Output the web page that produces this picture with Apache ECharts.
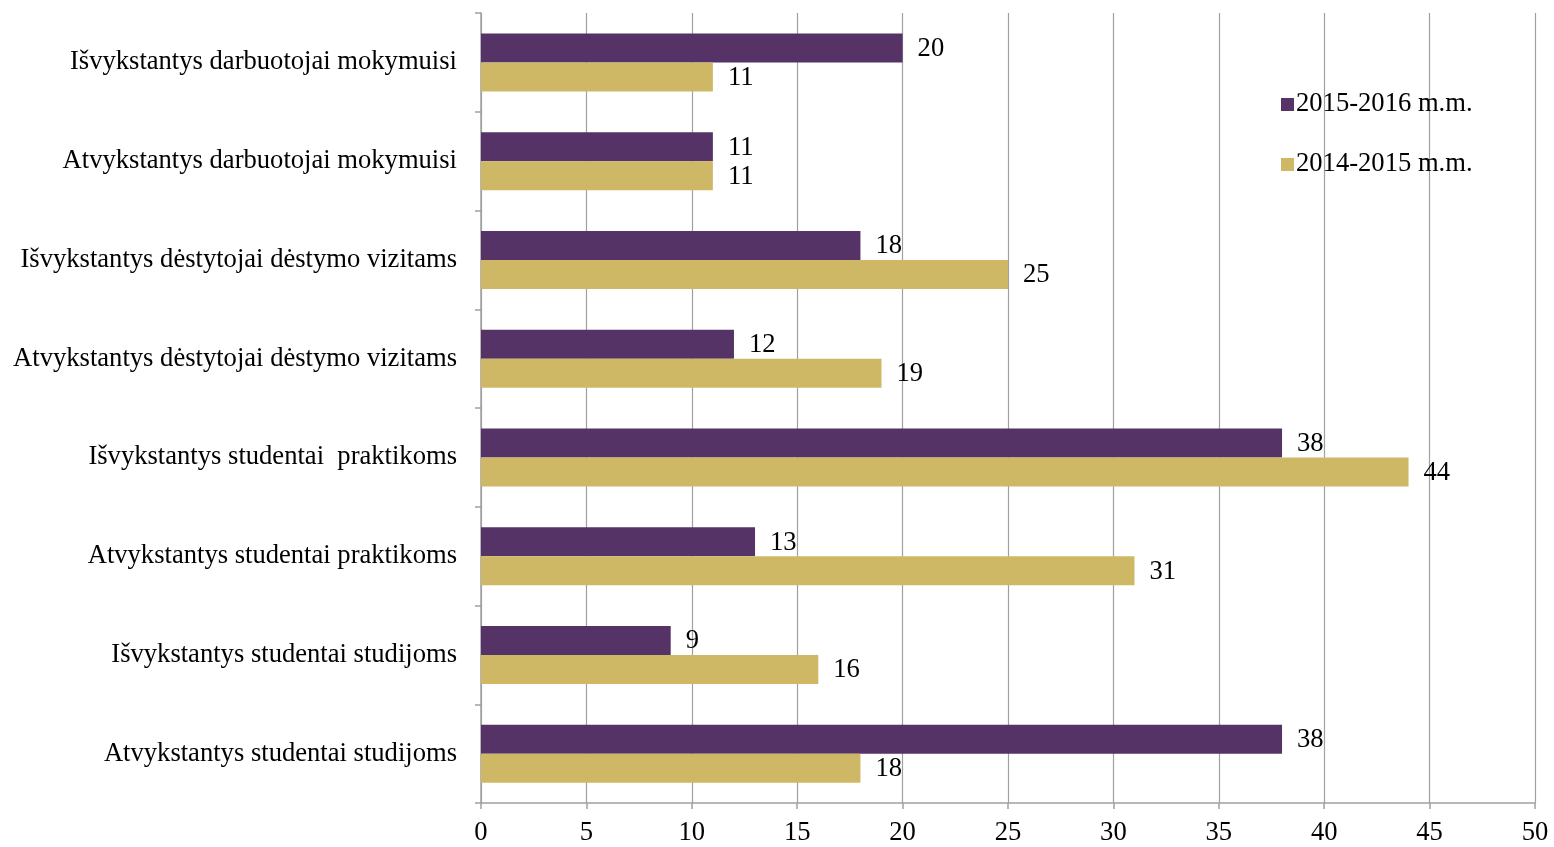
<!DOCTYPE html>
<html>
<head>
<meta charset="utf-8">
<script src="https://cdn.jsdelivr.net/npm/echarts@6/dist/echarts.min.js"></script>
<style>
html,body{margin:0;padding:0;background:#fff;}
#c{width:1554px;height:847px;}
</style>
</head>
<body>
<div id="c"></div>
<script>
const categories = [
  'Atvykstantys studentai studijoms',
  'Išvykstantys studentai studijoms',
  'Atvykstantys studentai praktikoms',
  'Išvykstantys studentai  praktikoms',
  'Atvykstantys dėstytojai dėstymo vizitams',
  'Išvykstantys dėstytojai dėstymo vizitams',
  'Atvykstantys darbuotojai mokymuisi',
  'Išvykstantys darbuotojai mokymuisi'
];
const series2015_2016 = [38, 9, 13, 38, 12, 18, 11, 20];
const series2014_2015 = [18, 16, 31, 44, 19, 25, 11, 11];
const xTicks = {min: 0, max: 50, interval: 5};

const font = 'Liberation Serif';
const fs = 26.6;
const chart = echarts.init(document.getElementById('c'));
chart.setOption({
  animation: false,
  textStyle: {fontFamily: font},
  grid: {left: 481, right: 19, top: 13, bottom: 43, containLabel: false},
  legend: {
    orient: 'vertical',
    left: 1276,
    top: 86,
    itemWidth: 13,
    itemHeight: 13,
    itemGap: 33,
    icon: 'rect',
    data: ['2015-2016 m.m.', '2014-2015 m.m.'],
    textStyle: {fontFamily: font, fontSize: fs, color: '#000', padding: [0,0,0,-3]}
  },
  xAxis: {
    type: 'value',
    min: xTicks.min, max: xTicks.max, interval: xTicks.interval,
    axisLine: {show: true, lineStyle: {color: '#a0a0a0', width: 1.5}},
    axisTick: {show: true, length: 6, lineStyle: {color: '#a0a0a0', width: 1.5}},
    splitLine: {show: true, lineStyle: {color: '#a0a0a0', width: 1.2}},
    axisLabel: {fontFamily: font, fontSize: fs, color: '#000', margin: 17}
  },
  yAxis: {
    type: 'category',
    data: categories,
    axisLine: {show: true, lineStyle: {color: '#a0a0a0', width: 1.5}},
    axisTick: {show: true, length: 6, lineStyle: {color: '#a0a0a0', width: 1.5}},
    axisLabel: {fontFamily: font, fontSize: fs, color: '#000', margin: 24}
  },
  series: [
    {
      name: '2015-2016 m.m.',
      type: 'bar',
      data: series2015_2016,
      barWidth: 29,
      barGap: '0%',
      barCategoryGap: '42%',
      itemStyle: {color: '#553366'},
      label: {show: true, position: 'right', distance: 15, offset: [0, 1], fontFamily: font, fontSize: fs, color: '#000'}
    },
    {
      name: '2014-2015 m.m.',
      type: 'bar',
      data: series2014_2015,
      barWidth: 29,
      barGap: '0%',
      barCategoryGap: '42%',
      itemStyle: {color: '#CEB866'},
      label: {show: true, position: 'right', distance: 15, offset: [0, 1], fontFamily: font, fontSize: fs, color: '#000'}
    }
  ]
});
</script>
</body>
</html>
